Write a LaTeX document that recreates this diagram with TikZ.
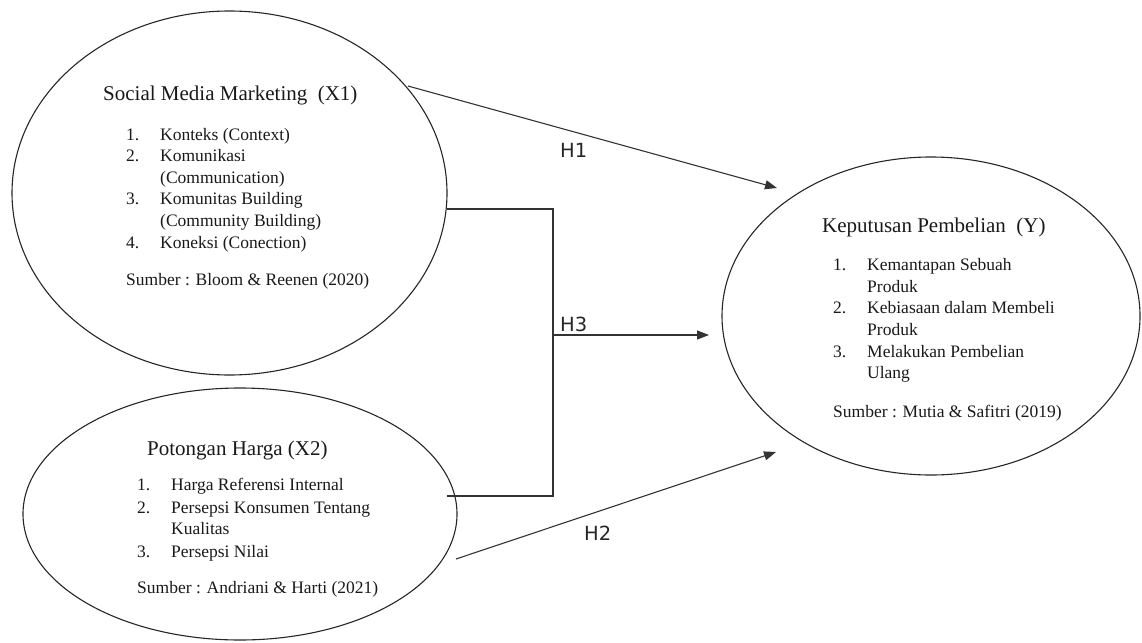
\documentclass[tikz,border=0pt]{standalone}
\usepackage{fontspec}
\setmainfont{Liberation Serif}
\newfontfamily\labfont{DejaVu Sans}
\usetikzlibrary{arrows.meta,shapes.geometric}
\begin{document}
\begin{tikzpicture}[x=1pt,y=-1pt,
  oval/.style={draw=black!85,line width=1.1pt,ellipse,inner sep=0pt},
  ttl/.style={anchor=base west,inner sep=0pt,font=\fontsize{21}{25}\selectfont,text=black!90},
  itm/.style={anchor=base west,inner sep=0pt,font=\fontsize{17.5}{21}\selectfont,text=black!90},
  hlab/.style={anchor=base west,inner sep=0pt,font=\labfont\fontsize{19.5}{23}\selectfont,text=black!85},
  conn/.style={draw=black!80,line width=1.1pt},
  arr/.style={conn,-{Triangle[length=12pt,width=9pt]}}]
\useasboundingbox (0,0) rectangle (1142,642);
% ellipses
\node[oval,minimum width=435pt,minimum height=364pt] (x1) at (229.5,193) {};
\node[oval,minimum width=434pt,minimum height=252pt] (x2) at (240,514) {};
\node[oval,minimum width=418pt,minimum height=318pt] (y) at (931,316) {};
% X1 text
\node[ttl] (x1t) at (103,100) {Social Media Marketing \ (X1)};
\node[itm] (x1n1) at (126,140) {1.};
\node[itm] (x1a) at (160,140) {Konteks (Context)};
\node[itm] (x1n2) at (126,161) {2.};
\node[itm] (x1b) at (160,161) {Komunikasi};
\node[itm] (x1b2) at (160,183) {(Communication)};
\node[itm] (x1n3) at (126,204) {3.};
\node[itm] (x1c) at (160,204) {Komunitas Building};
\node[itm] (x1c2) at (160,226) {(Community Building)};
\node[itm] (x1n4) at (126,248) {4.};
\node[itm] (x1d) at (160,248) {Koneksi (Conection)};
\node[itm] (x1s) at (126,285) {Sumber : Bloom \& Reenen (2020)};
% X2 text
\node[ttl] (x2t) at (147,455) {Potongan Harga (X2)};
\node[itm] (x2n1) at (137,490) {1.};
\node[itm] (x2a) at (171,490) {Harga Referensi Internal};
\node[itm] (x2n2) at (137,513) {2.};
\node[itm] (x2b) at (171,513) {Persepsi Konsumen Tentang};
\node[itm] (x2b2) at (171,534) {Kualitas};
\node[itm] (x2n3) at (137,557) {3.};
\node[itm] (x2c) at (171,557) {Persepsi Nilai};
\node[itm] (x2s) at (137,593) {Sumber : Andriani \& Harti (2021)};
% Y text
\node[ttl] (yt) at (822,232) {Keputusan Pembelian \ (Y)};
\node[itm] (yn1) at (833,270) {1.};
\node[itm] (ya) at (867,270) {Kemantapan Sebuah};
\node[itm] (ya2) at (867,292) {Produk};
\node[itm] (yn2) at (833,313) {2.};
\node[itm] (yb) at (867,313) {Kebiasaan dalam Membeli};
\node[itm] (yb2) at (867,335) {Produk};
\node[itm] (yn3) at (833,357) {3.};
\node[itm] (yc) at (867,357) {Melakukan Pembelian};
\node[itm] (yc2) at (867,378) {Ulang};
\node[itm] (ys) at (833,417) {Sumber : Mutia \& Safitri (2019)};
% connector end points
\coordinate (h1s) at (408,86);
\coordinate (h1e) at (777,188);
\coordinate (h2s) at (456,559);
\coordinate (h2e) at (776,452);
\coordinate (bt1) at (447,209);
\coordinate (bt2) at (553,209);
\coordinate (bb2) at (553,496);
\coordinate (bb1) at (447,496);
\coordinate (h3s) at (553,335);
\coordinate (h3e) at (709,335);
% connectors
\draw[arr] (h1s) -- (h1e);
\draw[arr] (h2s) -- (h2e);
\draw[conn] (bt1) -- (bt2) -- (bb2) -- (bb1);
\draw[arr] (h3s) -- (h3e);
% labels
\node[hlab] (lh1) at (560,157) {H1};
\node[hlab] (lh3) at (560,331) {H3};
\node[hlab] (lh2) at (584,540) {H2};
\end{tikzpicture}
\end{document}
